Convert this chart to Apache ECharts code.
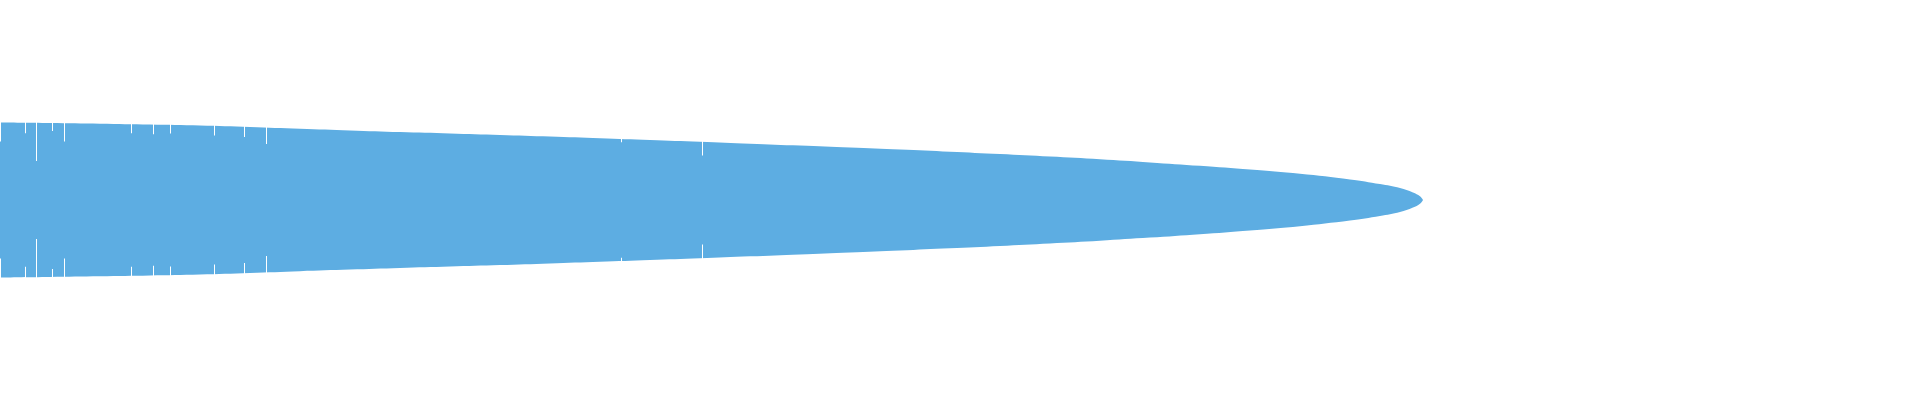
<!DOCTYPE html>
<html>
<head>
<meta charset="utf-8">
<script src="https://cdn.jsdelivr.net/npm/echarts@6/dist/echarts.min.js"></script>
<style>
  html, body { margin: 0; padding: 0; background: #fff; }
  #chart { width: 1920px; height: 400px; }
</style>
</head>
<body>
<div id="chart"></div>
<script>
// spread profile: half width of the band along x
var spreadX = [0, 50, 100, 150, 200, 250, 300, 350, 400, 450, 500, 550, 600, 650, 700,
    750, 800, 850, 900, 950, 1000, 1050, 1100, 1150, 1200, 1250, 1300, 1350, 1380, 1400,
    1413, 1420, 1423];
var spreadHalf = [77.5, 77, 76.3, 75.5, 74.5, 73, 71.2, 69.6, 68, 66.6, 65.1, 63.5, 61.8, 60, 58.2,
    56.3, 54.4, 52.4, 50.4, 48.2, 45.9, 43.4, 40.7, 37.6, 34.2, 30.4, 26.2, 20.6, 16, 12,
    7.5, 3.7, 0];

// single columns that drop below the band
var dipX = [0.5, 25.5, 36.5, 52.5, 64.5, 131.5, 153.5, 170.5, 214.5, 244.5, 266.5, 621.5, 702.5];
var dipHalf = [58.4, 66.7, 39, 69, 58.4, 66.7, 65.7, 66.4, 64.4, 63, 56, 57.7, 44.5];

var yLimit = 200;
var bandColor = '#5DADE2';

function pairs(xs, ys, sign) {
    return xs.map(function (x, i) {
        return [x, sign * ys[i]];
    });
}

// gap between the band edge and the dipped column, counted from the grid edge
var dipGap = dipX.map(function (x, i) {
    return [x, yLimit - dipHalf[i]];
});

var myChart = echarts.init(document.getElementById('chart'));
var option = {
    animation: false,
    backgroundColor: '#fff',
    grid: { left: 0, right: 0, top: 0, bottom: 0 },
    xAxis: { type: 'value', min: 0, max: 1920, show: false },
    yAxis: [
        { type: 'value', min: -yLimit, max: yLimit, show: false },
        { type: 'value', min: 0, max: 2 * yLimit, inverse: true, show: false },
        { type: 'value', min: 0, max: 2 * yLimit, show: false }
    ],
    series: [
        {
            // upper edge, filled down to the grid bottom
            name: 'upper',
            type: 'line',
            data: pairs(spreadX, spreadHalf, 1),
            smooth: 0.4,
            showSymbol: false,
            silent: true,
            lineStyle: { width: 0 },
            areaStyle: { color: bandColor, opacity: 1, origin: 'start' }
        },
        {
            // lower edge, clears everything below it
            name: 'lower',
            type: 'line',
            data: pairs(spreadX, spreadHalf, -1),
            smooth: 0.4,
            showSymbol: false,
            silent: true,
            lineStyle: { width: 0 },
            areaStyle: { color: '#fff', opacity: 1, origin: 'start' }
        },
        {
            name: 'dipTop',
            type: 'bar',
            yAxisIndex: 1,
            barWidth: 1,
            barGap: '-100%',
            z: 3,
            silent: true,
            itemStyle: { color: '#fff' },
            data: dipGap
        },
        {
            name: 'dipBottom',
            type: 'bar',
            yAxisIndex: 2,
            barWidth: 1,
            barGap: '-100%',
            z: 3,
            silent: true,
            itemStyle: { color: '#fff' },
            data: dipGap
        }
    ]
};
myChart.setOption(option);
</script>
</body>
</html>
